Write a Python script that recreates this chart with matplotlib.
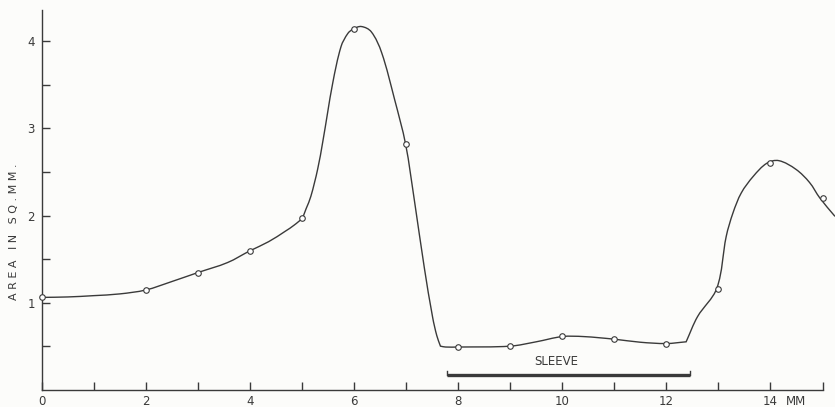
import numpy as np
import matplotlib
matplotlib.use("Agg")
import matplotlib.pyplot as plt
from matplotlib.path import Path
from matplotlib.patches import PathPatch
from matplotlib.transforms import blended_transform_factory

# measured points (open circles)
pos_mm = [0, 2, 3, 4, 5, 6, 7, 8, 9, 10, 11, 12, 13, 14, 15]
area = [1.06, 1.145, 1.345, 1.595, 1.97, 4.14, 2.82, 0.49, 0.50, 0.62, 0.58, 0.53, 1.16, 2.60, 2.20]

# drawn curve
curve_x = [0, 0.5, 1.0, 1.5, 2, 2.49, 3, 3.57, 4, 4.36, 4.68, 4.85, 5.0, 5.08, 5.17,
           5.30, 5.40, 5.59, 5.75, 5.88, 5.98, 6.14, 6.33, 6.53, 6.78, 6.99, 7.16,
           7.35, 7.51, 7.59, 7.66, 7.76, 8, 9, 9.5, 10, 10.41, 11, 11.5, 12, 12.38,
           12.6, 12.97, 13.15, 13.28, 13.44, 13.67, 13.93, 14.16, 14.49, 14.75,
           14.95, 15.24]
curve_y = [1.06, 1.065, 1.08, 1.10, 1.145, 1.24, 1.345, 1.46, 1.595, 1.70, 1.82, 1.89,
           1.97, 2.08, 2.22, 2.53, 2.85, 3.52, 3.94, 4.09, 4.14, 4.17, 4.11, 3.87,
           3.33, 2.82, 2.17, 1.40, 0.83, 0.62, 0.50, 0.49, 0.49, 0.50, 0.55, 0.61, 0.61,
           0.58, 0.545, 0.53, 0.55, 0.84, 1.165, 1.76, 2.03, 2.26, 2.45, 2.60, 2.63,
           2.53, 2.38, 2.20, 1.99]
corner_x = [7.66, 12.38]  # sharp bends of the pen line

sleeve_start, sleeve_end = 7.78, 12.45

ink = "#3a3a3a"
bg = "#fcfcfa"


def smooth_path(p, sharp):
    # cubic bezier through the traced points (catmull-rom style tangents)
    n = len(p)
    tang = np.zeros_like(p)
    for i in range(n):
        a = p[max(i - 1, 0)]
        b = p[min(i + 1, n - 1)]
        tang[i] = (b - a) / max(np.hypot(*(b - a)), 1e-9)
    verts = [p[0]]
    codes = [Path.MOVETO]
    for i in range(n - 1):
        seg = p[i + 1] - p[i]
        d = np.hypot(*seg)
        c0 = seg / 3 if i in sharp else tang[i] * d / 3
        c1 = seg / 3 if (i + 1) in sharp else tang[i + 1] * d / 3
        verts += [p[i] + c0, p[i + 1] - c1, p[i + 1]]
        codes += [Path.CURVE4] * 3
    return Path(verts, codes)


fig = plt.figure(figsize=(8.35, 4.07), dpi=100, facecolor=bg)
ax = fig.add_axes([0.05, 0.0425, 0.95, 0.933], facecolor=bg)

ax.set_xlim(0, 15.24)
ax.set_ylim(0, 4.36)

# curve drawn in display space so the tangents are not skewed by the axis scale
disp = ax.transData.transform(np.column_stack([curve_x, curve_y]))
sharp = [curve_x.index(c) for c in corner_x]
ax.add_patch(PathPatch(smooth_path(disp, sharp), transform=None, fill=False,
                       edgecolor=ink, lw=1.0, clip_on=False))
ax.plot(pos_mm, area, "o", ms=4, mfc="white", mec=ink, mew=0.8, clip_on=False, zorder=3)

# sleeve bar
ax.plot([sleeve_start, sleeve_end], [0.17, 0.17], color=ink, lw=2.4, solid_capstyle="butt")
ax.plot([sleeve_start, sleeve_start], [0.17, 0.22], color=ink, lw=1.0)
ax.plot([sleeve_end, sleeve_end], [0.17, 0.22], color=ink, lw=1.0)
ax.text(9.88, 0.25, "SLEEVE", color=ink, fontsize=8.5, ha="center", va="bottom")

for s in ["top", "right"]:
    ax.spines[s].set_visible(False)
ax.spines["left"].set_color(ink)
ax.spines["bottom"].set_color(ink)
ax.spines["left"].set_linewidth(1.0)
ax.spines["bottom"].set_linewidth(1.0)
ax.spines["bottom"].set_bounds(0, 15)

xt = list(range(16))
xl = [str(v) if v % 2 == 0 and v < 14 else "" for v in xt]
xl[14] = "14"
ax.set_xticks(xt)
ax.set_xticklabels(xl)
ax.set_yticks([1, 2, 3, 4])
ax.set_yticks([0.5, 1.5, 2.5, 3.5], minor=True)
ax.tick_params(axis="both", which="both", direction="in", length=6, width=1.0,
               color=ink, labelcolor=ink, labelsize=8.5)
ax.tick_params(axis="x", pad=4)
ax.tick_params(axis="y", pad=5)

trans = blended_transform_factory(ax.transData, ax.transAxes)
ax.text(14.3, -0.0135, "MM", transform=trans, color=ink, fontsize=8.5,
        ha="left", va="top")

fig.text(0.017, 0.43, "A R E A   I N   S Q . M M .", rotation=90, color=ink,
         fontsize=8, ha="center", va="center")

fig.savefig("out.png", dpi=100, facecolor=bg)
